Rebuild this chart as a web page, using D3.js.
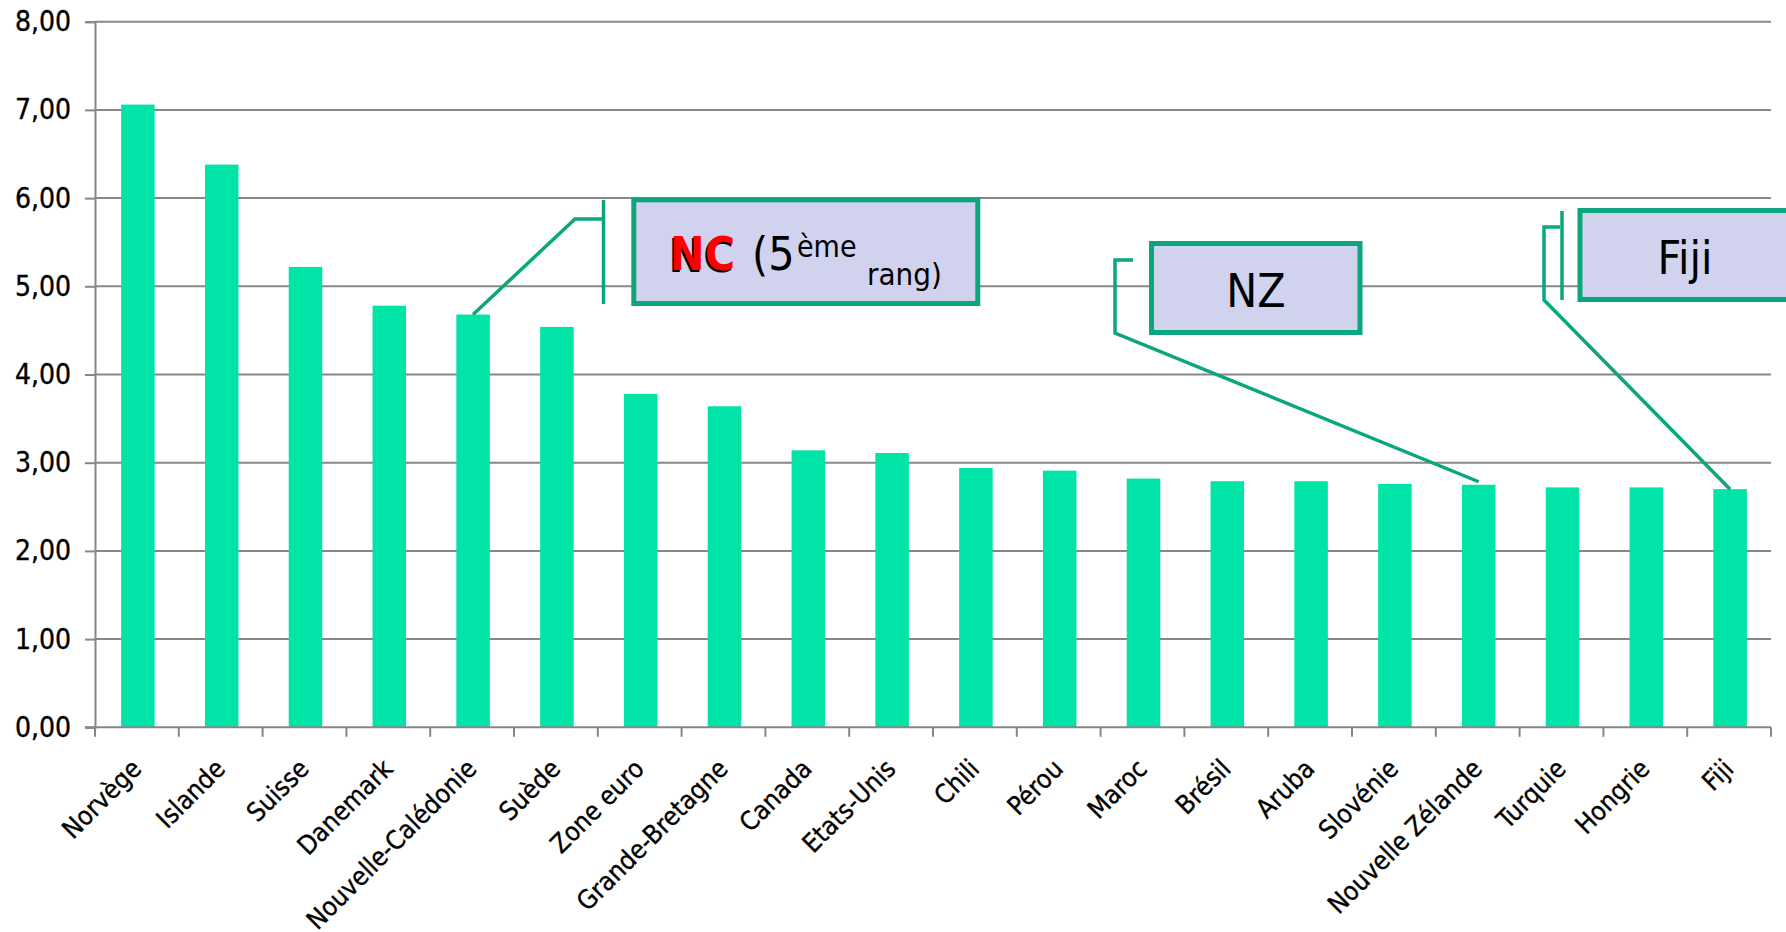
<!DOCTYPE html>
<html>
<head>
<meta charset="utf-8">
<script src="https://cdn.jsdelivr.net/npm/d3@7"></script>
<style>
  html, body { margin: 0; padding: 0; background: #ffffff; }
  svg { display: block; }
  text { font-family: "DejaVu Sans Condensed", "DejaVu Sans", sans-serif; font-stretch: condensed; }
</style>
</head>
<body>
<svg id="chart" width="1786" height="932"></svg>
<script>
const categories = ["Norvège","Islande","Suisse","Danemark","Nouvelle-Calédonie","Suède","Zone euro","Grande-Bretagne","Canada","Etats-Unis","Chili","Pérou","Maroc","Brésil","Aruba","Slovénie","Nouvelle Zélande","Turquie","Hongrie","Fiji"];
const values = [7.06, 6.38, 5.22, 4.78, 4.68, 4.54, 3.78, 3.64, 3.14, 3.11, 2.94, 2.91, 2.82, 2.79, 2.79, 2.76, 2.75, 2.72, 2.72, 2.70];
const yTicks = [0, 1, 2, 3, 4, 5, 6, 7, 8];

(function () {
const mLeft = 95, mRight = 1771, mTop = 21.7, mBottom = 727.3;
const barColor = "#00e4a8", gridColor = "#878787", calloutColor = "#0aa67d", boxFill = "#d0d2ee";

const svg = d3.select("#chart");
const x = d3.scaleBand().domain(categories).range([mLeft, mRight]).paddingInner(0.6).paddingOuter(0.3);
const y = d3.scaleLinear().domain([0, 8]).range([mBottom, mTop]);
const fmt = v => d3.format(".2f")(v).replace(".", ",");

// gridlines
svg.append("g").selectAll("line").data(yTicks.filter(d => d > 0)).join("line")
  .attr("x1", mLeft).attr("x2", mRight)
  .attr("y1", d => y(d)).attr("y2", d => y(d))
  .attr("stroke", gridColor).attr("stroke-width", 2);

// y axis
const yAxis = d3.axisLeft(y).tickValues(yTicks).tickFormat(fmt).tickSize(10).tickPadding(14);
const gy = svg.append("g").attr("transform", `translate(${mLeft},0)`).call(yAxis);
gy.select(".domain").attr("stroke", gridColor).attr("stroke-width", 2);
gy.selectAll(".tick line").attr("stroke", gridColor).attr("stroke-width", 2);
gy.selectAll(".tick text").attr("font-size", 28).attr("fill", "#000")
  .attr("stroke", "#000").attr("stroke-width", 0.35)
  .style("font-family", '"DejaVu Sans Condensed", "DejaVu Sans", sans-serif');

// bars
svg.append("g").selectAll("rect").data(values).join("rect")
  .attr("x", (d, i) => x(categories[i]) + 1)
  .attr("y", d => y(d))
  .attr("width", x.bandwidth())
  .attr("height", d => y(0) - y(d))
  .attr("fill", barColor);

// x axis line and ticks at category boundaries
const step = x.step();
const boundaries = categories.map(c => x(c) + x.bandwidth() / 2 - step / 2)
  .concat([x(categories[categories.length - 1]) + x.bandwidth() / 2 + step / 2]);
svg.append("line").attr("x1", mLeft - 10).attr("x2", mRight).attr("y1", y(0)).attr("y2", y(0))
  .attr("stroke", gridColor).attr("stroke-width", 2);
svg.append("g").selectAll("line").data(boundaries).join("line")
  .attr("x1", d => d).attr("x2", d => d).attr("y1", y(0)).attr("y2", y(0) + 9.5)
  .attr("stroke", gridColor).attr("stroke-width", 2);

// x labels
svg.append("g").selectAll("text").data(categories).join("text")
  .attr("transform", c => `translate(${x(c) + x.bandwidth() / 2 + 6},${y(0) + 43}) rotate(-45)`)
  .attr("text-anchor", "end")
  .attr("font-size", 26)
  .attr("fill", "#000")
  .attr("stroke", "#000").attr("stroke-width", 0.35)
  .text(c => c);

// callouts
const ix = c => categories.indexOf(c);
const topOf = c => [x(c) + 1 + x.bandwidth() / 2, y(values[ix(c)])];
const line = d3.line();
const callouts = svg.append("g");

function box(x0, y0, w, h) {
  callouts.append("rect").attr("x", x0).attr("y", y0).attr("width", w).attr("height", h)
    .attr("fill", boxFill).attr("stroke", calloutColor).attr("stroke-width", 5);
}
function path(pts) {
  callouts.append("path").attr("d", line(pts)).attr("fill", "none")
    .attr("stroke", calloutColor).attr("stroke-width", 3.5).attr("stroke-linejoin", "miter");
}

// NC
path([[603.5, 200], [603.5, 304]]);
path([[603.5, 219], [575, 219], topOf("Nouvelle-Calédonie")]);
box(633.8, 199.8, 344, 103.7);
callouts.append("text").attr("x", 668.5).attr("y", 271.5).attr("font-size", 46).attr("font-weight", "bold").attr("fill", "#000").text("NC");
callouts.append("text").attr("x", 670).attr("y", 270).attr("font-size", 46).attr("font-weight", "bold").attr("fill", "#ff0000").text("NC");
callouts.append("text").attr("x", 752).attr("y", 270).attr("font-size", 46).attr("fill", "#000").text("(5");
callouts.append("text").attr("x", 797).attr("y", 257).attr("font-size", 30).attr("fill", "#000").text("ème");
callouts.append("text").attr("x", 867).attr("y", 285).attr("font-size", 31).attr("fill", "#000").text("rang)");

// NZ
const nz = topOf("Nouvelle Zélande");
path([[1133, 260], [1115, 260], [1115, 333], [nz[0], nz[1] - 3]]);
box(1151.5, 243.5, 208.5, 89);
callouts.append("text").attr("x", 1256).attr("y", 307).attr("text-anchor", "middle").attr("font-size", 46).attr("fill", "#000").text("NZ");

// Fiji
path([[1562, 211], [1562, 300]]);
path([[1560, 227], [1544, 227], [1544, 300], topOf("Fiji")]);
box(1580, 210.5, 209, 89);
callouts.append("text").attr("x", 1685).attr("y", 274).attr("text-anchor", "middle").attr("font-size", 46).attr("fill", "#000").text("Fiji");
})();
</script>
</body>
</html>
